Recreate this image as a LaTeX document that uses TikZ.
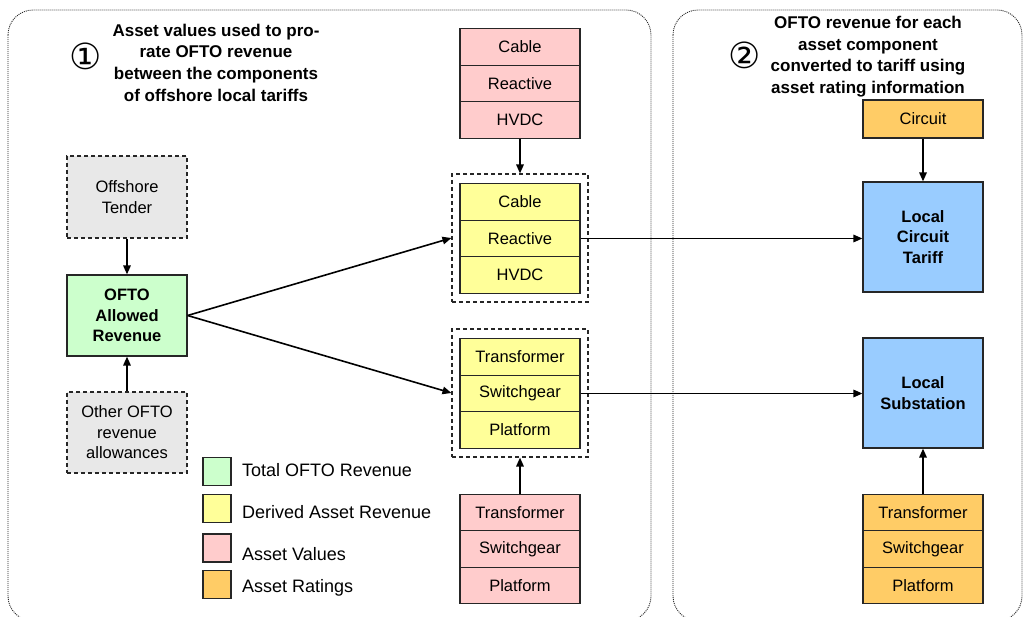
\documentclass[tikz,border=0pt]{standalone}
\usepackage{fontspec}
\setmainfont{Liberation Sans}
\newfontfamily\symfont{DejaVu Sans}
\usetikzlibrary{arrows.meta}
\definecolor{cgreen}{HTML}{CCFFCC}
\definecolor{cyellow}{HTML}{FFFF99}
\definecolor{cpink}{HTML}{FFCCCC}
\definecolor{corange}{HTML}{FFCC66}
\definecolor{cblue}{HTML}{99CCFF}
\definecolor{cgray}{HTML}{E8E8E8}
\tikzset{
  box/.style={draw=black!85, line width=1.2pt, minimum width=120pt, inner sep=0pt, align=center,
    font=\fontsize{16.5}{20.5}\selectfont},
  cell/.style={box, minimum height=36.5pt},
  bigbox/.style={box, font=\fontsize{16.5}{20.5}\selectfont\bfseries},
  dbox/.style={draw=black!85, line width=1.1pt, dash pattern=on 4pt off 3pt, inner sep=0pt},
  legbox/.style={draw=black!85, line width=1.1pt, minimum width=28pt, minimum height=28pt, inner sep=0pt},
  legtxt/.style={anchor=west, inner sep=0pt, font=\fontsize{18}{22}\selectfont},
  panel/.style={draw=black!85, line width=0.9pt, dash pattern=on 1pt off 1pt, rounded corners=25pt},
  arr/.style={line width=1.6pt, -{Triangle[length=9pt,width=7.5pt]}},
  title/.style={align=center, inner sep=0pt, font=\fontsize{17}{21.7}\selectfont\bfseries},
  numtxt/.style={inner sep=0pt, font=\fontsize{36}{36}\symfont}
}
\begin{document}
\begin{tikzpicture}[x=1pt,y=-1pt]
\useasboundingbox (0,0) rectangle (1025,617);
\clip (0,0) rectangle (1025,617);
% panels
\draw[panel] (8,10) rectangle (651,621);
\draw[panel] (673,10) rectangle (1022,621);
% titles
\node[numtxt] (n1) at (85.5,56) {①};
\node[title] (t1) at (216,62.5) {Asset values used to pro-\\rate OFTO revenue\\between the components\\of offshore local tariffs};
\node[numtxt] (n2) at (745,55) {②};
\node[title] (t2) at (868,56.5) {OFTO revenue for each\\asset component\\converted to tariff using\\asset rating information};
% left column
\node[box, dbox, fill=cgray, minimum width=120pt, minimum height=82pt, font=\fontsize{16.5}{20.5}\selectfont, align=center] (ot) at (127,197) {Offshore\\Tender};
\node[bigbox, fill=cgreen, minimum height=81pt] (ofto) at (127,315.5) {OFTO\\Allowed\\Revenue};
\node[box, dbox, fill=cgray, minimum width=120pt, minimum height=81pt, font=\fontsize{16.5}{20.5}\selectfont, align=center] (oth) at (127,432.5) {Other OFTO\\revenue\\allowances};
% top pink stack
\node[cell, fill=cpink] (pc) at (520,47) {Cable};
\node[cell, fill=cpink] (pr) at (520,83.5) {Reactive};
\node[cell, fill=cpink] (ph) at (520,120) {HVDC};
% dashed box 1 and yellow stack
\node[dbox, minimum width=136pt, minimum height=128pt] (d1) at (520,238) {};
\node[cell, fill=cyellow] (yc) at (520,202) {Cable};
\node[cell, fill=cyellow] (yr) at (520,238.5) {Reactive};
\node[cell, fill=cyellow] (yh) at (520,275) {HVDC};
% dashed box 2 and yellow stack
\node[dbox, minimum width=136pt, minimum height=128pt] (d2) at (520,393) {};
\node[cell, fill=cyellow] (yt) at (520,357) {Transformer};
\node[cell, fill=cyellow] (ys) at (520,393.5) {Switchgear};
\node[cell, fill=cyellow] (yp) at (520,430) {Platform};
% bottom pink stack
\node[cell, fill=cpink] (pt) at (520,512.5) {Transformer};
\node[cell, fill=cpink] (ps) at (520,549) {Switchgear};
\node[cell, fill=cpink] (pp) at (520,585.5) {Platform};
% right column
\node[box, fill=corange, minimum height=38pt] (circ) at (923,119) {Circuit};
\node[bigbox, fill=cblue, minimum height=110pt] (lct) at (923,237) {Local\\Circuit\\Tariff};
\node[bigbox, fill=cblue, minimum height=110pt] (ls) at (923,393) {Local\\Substation};
\node[cell, fill=corange] (ot1) at (923,512.5) {Transformer};
\node[cell, fill=corange] (os) at (923,549) {Switchgear};
\node[cell, fill=corange] (op) at (923,585.5) {Platform};
% legend
\node[legbox, fill=cgreen] (lg1) at (217,471.5) {};
\node[legbox, fill=cyellow] (lg2) at (217,508.5) {};
\node[legbox, fill=cpink] (lg3) at (217,548) {};
\node[legbox, fill=corange] (lg4) at (217,584.5) {};
\node[legtxt] (lt1) at (242,470) {Total OFTO Revenue};
\node[legtxt] (lt2) at (242,512) {Derived Asset Revenue};
\node[legtxt] (lt3) at (242,554.5) {Asset Values};
\node[legtxt] (lt4) at (242,587.5) {Asset Ratings};
% connectors
\draw[arr] (ot.south) -- (ofto.north);
\draw[arr] (oth.north) -- (ofto.south);
\draw[arr] (ofto.east) -- (d1.west);
\draw[arr] (ofto.east) -- (d2.west);
\draw[arr] (ph.south) -- (d1.north);
\draw[arr] (pt.north) -- (d2.south);
\draw[arr] (yr.east) -- (yr.east -| lct.west);
\draw[arr] (ys.east) -- (ys.east -| ls.west);
\draw[arr] (circ.south) -- (lct.north);
\draw[arr] (ot1.north) -- (ls.south);
\end{tikzpicture}
\end{document}
